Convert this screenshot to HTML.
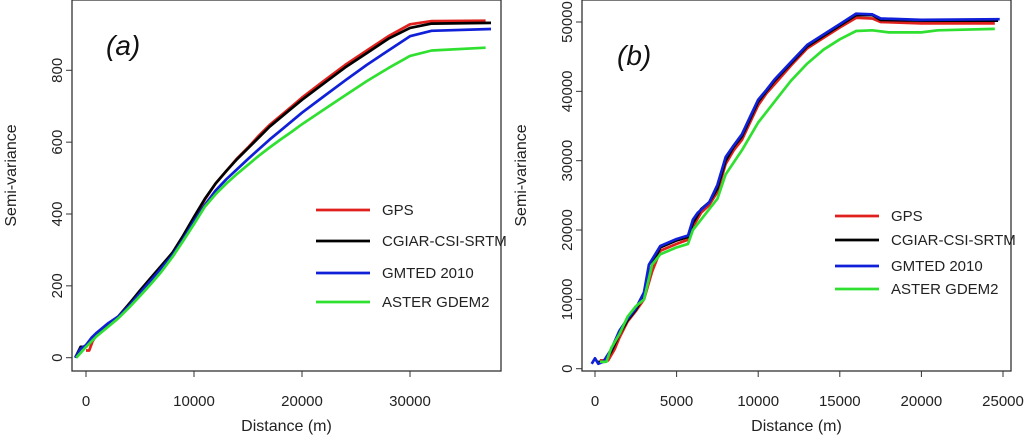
<!DOCTYPE html>
<html><head><meta charset="utf-8"><style>
body{margin:0;background:#fff;width:1024px;height:442px;overflow:hidden}
svg{font-family:"Liberation Sans",sans-serif}
</style></head><body>
<svg id="c" width="1024" height="442"></svg>
<script>
const seriesNames=["GPS","CGIAR-CSI-SRTM","GMTED 2010","ASTER GDEM2"];
const seriesColors=["#e0201c","#000000","#1020d8","#30e030"];
const aGPS=[[0,20],[300,20],[600,45],[1000,65],[2000,90],[3000,115],[4000,150],[5000,185],[6000,220],[7000,255],[8000,290],[9000,335],[10000,385],[11000,440],[12000,485],[13000,520],[14000,555],[15000,585],[16000,618],[17000,648],[18000,673],[19000,698],[20000,724],[22000,770],[24000,815],[26000,855],[28000,895],[30000,928],[32000,937],[37000,938]];
const aSRTM=[[-1000,0],[-500,30],[0,30],[500,50],[1000,65],[2000,90],[3000,115],[4000,150],[5000,187],[6000,222],[7000,257],[8000,292],[9000,340],[10000,392],[11000,442],[12000,485],[13000,520],[14000,553],[15000,583],[16000,613],[17000,643],[18000,668],[19000,693],[20000,718],[22000,763],[24000,808],[26000,848],[28000,888],[30000,918],[32000,930],[37500,932]];
const aGMTED=[[-1000,0],[-500,25],[0,35],[500,55],[1000,70],[2000,95],[3000,115],[4000,145],[5000,180],[6000,215],[7000,250],[8000,285],[9000,330],[10000,380],[11000,425],[12000,465],[13000,497],[14000,525],[15000,553],[16000,580],[17000,607],[18000,632],[19000,657],[20000,682],[22000,727],[24000,772],[26000,815],[28000,855],[30000,895],[32000,910],[37500,915]];
const aASTER=[[-900,0],[0,30],[1000,60],[2000,85],[3000,110],[4000,140],[5000,172],[6000,205],[7000,240],[8000,280],[9000,325],[10000,372],[11000,420],[12000,455],[13000,485],[14000,512],[15000,537],[16000,562],[17000,585],[18000,607],[19000,628],[20000,650],[22000,690],[24000,730],[26000,770],[28000,806],[30000,840],[32000,855],[37000,863]];
const bGPS=[[300,1200],[800,1200],[1200,2800],[1500,4500],[2000,6800],[2500,8300],[3000,10000],[3500,14000],[4000,17000],[5000,18000],[5700,18600],[6000,20500],[6500,22500],[7000,23600],[7500,25500],[8000,29500],[8500,31500],[9000,33000],[9500,35500],[10000,38000],[10500,39700],[11000,41000],[12000,43700],[13000,46200],[14000,47700],[15000,49200],[16000,50600],[17000,50500],[17500,50000],[20000,49800],[24500,49800]];
const bSRTM=[[200,1000],[600,1000],[1000,2500],[1500,5000],[2000,7000],[2500,8500],[3000,10500],[3500,15000],[4000,17500],[5000,18500],[5700,19000],[6000,21000],[6500,23000],[7000,24000],[7500,26000],[8000,30000],[8500,32000],[9000,33500],[9500,36000],[10000,38500],[10500,40000],[11000,41500],[12000,44000],[13000,46500],[14000,48000],[15000,49500],[16000,51000],[17000,51000],[17500,50300],[20000,50200],[24700,50200]];
const bGMTED=[[-200,700],[0,1500],[200,700],[500,1000],[1000,2800],[1500,5500],[2000,7200],[2500,8700],[3000,11000],[3300,15000],[4000,17700],[5000,18700],[5700,19200],[6000,21500],[6300,22500],[7000,24000],[7500,26500],[8000,30500],[8500,32200],[9000,33800],[9500,36300],[10000,38800],[10500,40200],[11000,41700],[12000,44200],[13000,46700],[14000,48200],[15000,49700],[16000,51200],[17000,51100],[17500,50500],[20000,50300],[24800,50400]];
const bASTER=[[300,1000],[700,1000],[1000,3000],[1500,5000],[2000,7500],[2500,9000],[3000,10000],[3500,15000],[4000,16500],[5000,17500],[5700,18000],[6000,20000],[7000,23000],[7500,24500],[8000,28000],[9000,31500],[10000,35500],[10500,37000],[11000,38500],[12000,41500],[13000,44000],[14000,46000],[15000,47500],[16000,48700],[17000,48800],[18000,48500],[20000,48500],[21000,48800],[24500,49000]];
const aXTicks=[0,10000,20000,30000];
const aYTicks=[0,200,400,600,800];
const bXTicks=[0,5000,10000,15000,20000,25000];
const bYTicks=[0,10000,20000,30000,40000,50000];

const svg=document.getElementById('c');
const NS="http://www.w3.org/2000/svg";
function mk(t,a,parent){const e=document.createElementNS(NS,t);for(const k in a)e.setAttribute(k,a[k]);(parent||svg).appendChild(e);return e;}

function panel(p){
  const g=mk('g',{});
  
  
  const X=v=>p.x0+(v-p.xmin)*p.xs, Y=v=>p.y0-(v)*p.ys;
  const box=mk('rect',{x:p.bx,y:p.by,width:p.bw,height:p.bh,fill:'none',stroke:'#333','stroke-width':1.3},g);
  
  
  p.xt.forEach(t=>{
    mk('line',{x1:X(t),x2:X(t),y1:p.by+p.bh,y2:p.by+p.bh+6,stroke:'#333'},g);
    const tx=mk('text',{x:X(t),y:406,'font-size':15,'text-anchor':'middle',fill:'#222'},g);
    tx.textContent=t;
    
    
  });
  p.yt.forEach(t=>{
    mk('line',{x1:p.bx,x2:p.bx-6,y1:Y(t),y2:Y(t),stroke:'#333'},g);
    const tx=mk('text',{x:0,y:0,'font-size':15,'text-anchor':'middle',fill:'#222',transform:`translate(${p.bx-10},${Y(t)}) rotate(-90)`},g);
    tx.textContent=t;
    
    
  });
  const xl=mk('text',{x:p.bx+p.bw/2,y:431,'font-size':16,'text-anchor':'middle',fill:'#222'},g);
  xl.textContent='Distance (m)';
  
  
  const yl=mk('text',{x:0,y:0,'font-size':16,'text-anchor':'middle',fill:'#222',transform:`translate(${p.bx-56},${p.by+p.bh/2-10}) rotate(-90)`},g);
  yl.textContent='Semi-variance';
  
  
  const pl=mk('text',{x:p.lx,y:p.ly,'font-size':28,'font-style':'italic',fill:'#111'},g);
  pl.textContent=p.label;
  
  
  p.series.forEach((s,i)=>{
    const d=s.map((q,j)=>(j?'L':'M')+X(q[0]).toFixed(1)+','+Y(q[1]).toFixed(1)).join('');
    const path=mk('path',{d:d,fill:'none',stroke:seriesColors[i],'stroke-width':2.7,'stroke-linejoin':'round'},g);
    
    
  });
  p.legY.forEach((ly,i)=>{
    const le=mk('g',{},g);
    
    
    mk('line',{x1:p.legX,x2:p.legX+p.legW,y1:ly,y2:ly,stroke:seriesColors[i],'stroke-width':2.8},le);
    const t=mk('text',{x:p.legX+p.legW+12,y:ly+5,'font-size':15,fill:'#222'},le);
    t.textContent=seriesNames[i];
  });
}
panel({name:'panel-a',bx:72,by:0,bw:429,bh:371,x0:86,xmin:0,xs:108/10000,y0:357.7,ys:71.85/200,
  xt:aXTicks,yt:aYTicks,series:[aGPS,aSRTM,aGMTED,aASTER],label:'(a)',lx:106,ly:55,
  legX:316,legW:54,legY:[210,241,273,302]});
panel({name:'panel-b',bx:582,by:0,bw:429,bh:371,x0:595,xmin:0,xs:81.6/5000,y0:368.7,ys:69.34/10000,
  xt:bXTicks,yt:bYTicks,series:[bGPS,bSRTM,bGMTED,bASTER],label:'(b)',lx:617,ly:65,
  legX:835,legW:44,legY:[216,240,266,289]});
</script>
</body></html>
